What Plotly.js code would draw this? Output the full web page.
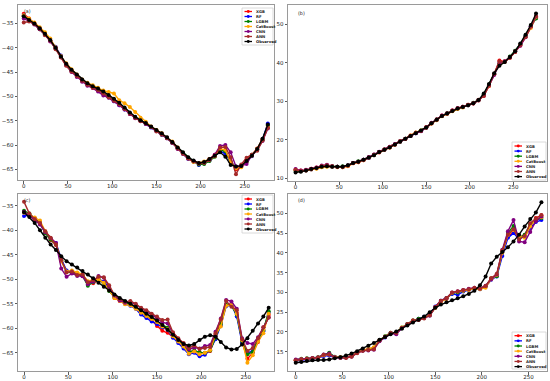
<!DOCTYPE html>
<html>
<head>
<meta charset="utf-8">
<script src="https://cdn.plot.ly/plotly-3.0.1.min.js"></script>
<style>html,body{margin:0;padding:0;background:#fff;}#chart{width:550px;height:381px;}</style>
</head>
<body>
<div id="chart"></div>
<script>
// ---------- data ----------
const seriesNames = ["XGB", "RF", "LGBM", "CatBoost", "CNN", "ANN", "Observed"];
const seriesColors = ["#ff0000", "#0000ff", "#008000", "#ffa500", "#800080", "#a52a2a", "#000000"];
const panelLabels = ["(a)", "(b)", "(c)", "(d)"];

const xA = [0,6,12,18,24,30,36,42,48,54,60,66,72,78,84,90,96,102,108,114,120,126,132,138,144,150,156,162,168,174,180,186,192,198,204,210,216,222,228,234,240,246,252,258,264,270,276];
const xB = xA;
const xC = xA;
const xD = [0,6,12,18,24,30,36,42,48,54,60,66,72,78,84,90,96,102,108,114,120,126,132,138,144,150,156,162,168,174,180,186,192,198,204,210,216,222,228,234,240,246,252,258,264];

// panel (a)
const aXGB = [-33.0,-34.0,-34.9,-36.0,-37.2,-38.6,-40.0,-41.9,-43.5,-44.8,-45.8,-46.8,-47.6,-48.1,-48.6,-49.3,-50.0,-50.8,-51.6,-52.6,-53.6,-54.4,-55.0,-55.6,-56.3,-57.0,-57.7,-58.5,-59.5,-60.6,-61.7,-62.7,-63.3,-63.8,-63.6,-62.9,-62.0,-60.8,-61.2,-63.4,-65.0,-64.4,-63.0,-62.0,-60.7,-58.9,-56.3];
const aRF = [-33.3,-34.2,-35.0,-36.1,-37.3,-38.5,-39.8,-41.6,-43.4,-44.6,-45.7,-46.6,-47.4,-48.0,-48.7,-49.4,-50.2,-51.0,-51.8,-52.7,-53.5,-54.3,-55.0,-55.7,-56.4,-57.1,-57.8,-58.6,-59.5,-60.7,-61.8,-62.9,-63.3,-64.1,-63.8,-63.2,-62.3,-61.3,-61.7,-63.6,-64.5,-64.3,-63.4,-62.3,-61.0,-58.8,-55.6];
const aLGBM = [-33.6,-34.4,-35.1,-36.2,-37.2,-38.5,-40.1,-41.9,-43.4,-44.7,-45.8,-46.7,-47.5,-48.0,-48.6,-49.3,-50.0,-50.7,-51.5,-52.5,-53.5,-54.3,-54.9,-55.6,-56.3,-57.0,-57.9,-58.5,-59.6,-60.6,-61.6,-62.6,-63.4,-64.0,-63.9,-63.3,-62.4,-61.0,-61.3,-63.5,-64.6,-64.3,-63.5,-62.0,-60.9,-59.0,-56.0];
const aCat = [-33.3,-34.0,-34.8,-35.8,-36.8,-38.1,-39.9,-41.7,-43.2,-44.4,-45.5,-46.5,-47.2,-47.7,-48.2,-48.8,-49.1,-49.4,-50.8,-51.4,-52.2,-53.2,-54.4,-55.2,-56.2,-56.9,-57.6,-58.5,-59.3,-60.5,-61.7,-62.8,-63.5,-63.7,-63.4,-62.9,-62.3,-60.8,-61.0,-63.6,-64.8,-64.6,-63.5,-62.2,-60.8,-58.8,-56.4];
const aCNN = [-34.0,-34.5,-35.2,-36.2,-37.3,-38.7,-40.1,-41.9,-43.6,-45.0,-46.0,-47.0,-47.8,-48.3,-49.0,-49.8,-50.3,-51.0,-51.8,-52.7,-53.6,-54.5,-55.0,-55.7,-56.3,-57.1,-57.9,-58.6,-59.6,-60.8,-61.8,-62.8,-63.3,-63.8,-63.6,-63.0,-62.0,-60.2,-60.0,-61.5,-64.4,-64.3,-63.9,-62.1,-61.0,-59.2,-56.6];
const aANN = [-34.8,-34.6,-35.1,-36.1,-37.4,-38.5,-40.3,-42.0,-43.7,-44.9,-45.8,-46.8,-47.6,-48.2,-48.7,-49.4,-50.2,-50.9,-51.6,-52.6,-53.5,-54.4,-55.1,-55.6,-56.3,-57.2,-57.8,-58.6,-59.5,-60.7,-61.8,-62.8,-63.4,-63.8,-63.7,-63.1,-62.2,-60.5,-60.4,-62.5,-66.0,-64.0,-62.6,-62.0,-61.2,-59.1,-56.5];
const aObs = [-33.5,-34.3,-35.0,-36.0,-37.1,-38.4,-40.0,-41.8,-43.3,-44.5,-45.5,-46.5,-47.3,-47.9,-48.4,-49.0,-49.7,-50.5,-51.3,-52.3,-53.3,-54.2,-54.9,-55.5,-56.2,-56.9,-57.6,-58.4,-59.4,-60.5,-61.5,-62.5,-63.2,-63.7,-63.5,-62.9,-62.2,-61.5,-62.4,-64.1,-64.4,-64.3,-63.3,-62.2,-60.8,-58.7,-55.8];

// panel (b)
const bXGB = [12.3,12.0,12.1,12.5,12.8,13.2,13.4,13.1,13.0,12.9,13.2,13.9,14.2,14.7,15.3,16.1,16.7,17.5,18.0,18.7,19.6,20.2,21.1,21.8,22.3,23.3,24.2,25.3,26.3,26.9,27.6,28.2,28.6,29.1,29.4,30.4,31.4,34.0,37.0,40.6,40.3,41.3,42.8,44.5,46.8,49.3,51.8];
const bRF = [12.0,11.9,12.0,12.3,12.6,13.0,13.2,13.0,13.0,13.0,13.3,14.0,14.3,14.8,15.3,16.0,16.8,17.4,18.1,18.8,19.5,20.3,21.0,21.7,22.3,23.1,24.3,25.2,26.2,26.8,27.5,28.1,28.5,29.0,29.5,30.3,31.7,34.2,37.0,39.6,40.3,41.5,43.0,44.8,47.0,49.5,51.6];
const bLGBM = [11.9,11.8,12.1,12.4,12.6,13.0,13.1,13.1,13.0,13.1,13.3,14.0,14.4,14.8,15.4,16.1,16.8,17.5,18.1,18.8,19.6,20.3,21.0,21.8,22.4,23.2,24.3,25.3,26.2,26.9,27.5,28.1,28.5,29.0,29.6,30.3,31.8,34.3,37.1,39.8,40.2,41.6,43.1,44.8,47.1,49.6,51.5];
const bCat = [12.1,11.9,12.0,12.3,12.5,12.9,13.0,13.0,12.9,12.9,13.1,13.9,14.2,14.7,15.4,16.0,16.8,17.4,18.0,18.8,19.5,20.3,21.1,21.9,22.4,23.1,24.2,25.1,26.1,26.7,27.4,28.0,28.4,29.0,29.5,30.2,31.6,34.0,37.0,39.5,40.4,41.4,42.9,44.6,46.7,49.0,51.9];
const bCNN = [12.4,12.0,12.2,12.5,12.8,13.3,13.5,13.1,13.0,13.0,13.3,14.0,14.3,14.8,15.5,16.2,16.9,17.5,18.2,18.9,19.6,20.3,21.0,21.7,22.2,23.2,24.4,25.3,26.3,26.8,27.6,28.2,28.6,29.0,29.5,30.2,31.5,34.1,36.8,40.0,40.4,41.4,42.9,44.4,46.6,49.4,52.0];
const bANN = [12.2,11.9,12.1,12.4,12.7,13.2,13.4,13.1,13.0,13.0,13.3,14.0,14.3,14.8,15.4,16.1,16.8,17.5,18.1,18.8,19.6,20.2,21.0,21.8,22.3,23.2,24.3,25.3,26.2,26.8,27.6,28.2,28.6,29.1,29.4,30.3,31.4,34.1,37.1,40.4,40.2,41.3,42.8,44.6,46.7,49.4,52.1];
const bObs = [11.5,11.7,12.0,12.4,12.7,13.0,13.1,13.0,13.0,13.0,13.4,14.0,14.3,14.8,15.4,16.0,16.8,17.4,18.0,18.8,19.5,20.3,21.0,21.7,22.4,23.2,24.3,25.2,26.2,26.8,27.5,28.1,28.5,29.0,29.5,30.3,32.0,34.5,37.3,39.2,40.2,41.5,43.0,45.0,47.3,49.8,52.8];

// panel (c)
const cXGB = [-36.2,-36.8,-37.5,-38.5,-40.5,-42.0,-43.0,-46.2,-48.3,-48.6,-49.0,-49.3,-50.5,-50.8,-50.2,-50.6,-52.0,-53.8,-54.4,-55.0,-55.1,-55.6,-56.6,-57.4,-58.4,-59.5,-60.5,-60.9,-61.8,-62.6,-63.6,-64.8,-64.6,-64.9,-65.2,-64.6,-61.6,-58.8,-55.3,-55.0,-56.8,-62.8,-66.2,-65.0,-62.8,-60.3,-57.3];
const cRF = [-37.1,-36.9,-37.7,-38.7,-40.4,-41.7,-42.6,-45.8,-48.2,-48.5,-48.9,-49.1,-50.6,-50.3,-49.9,-50.5,-51.7,-53.4,-54.3,-55.0,-55.4,-56.0,-57.2,-57.9,-58.6,-59.1,-59.8,-60.3,-61.9,-63.0,-64.1,-65.3,-65.0,-65.7,-65.4,-64.4,-62.2,-59.4,-55.5,-55.2,-57.6,-63.0,-65.0,-64.6,-62.4,-60.6,-56.8];
const cLGBM = [-36.0,-36.6,-37.6,-38.4,-40.6,-41.9,-42.9,-46.1,-48.5,-48.7,-48.9,-49.3,-51.3,-50.6,-50.0,-50.8,-52.4,-53.6,-54.2,-54.8,-55.0,-55.6,-56.4,-57.2,-57.9,-58.6,-59.3,-59.9,-61.3,-62.5,-63.6,-64.8,-64.5,-64.9,-65.0,-64.5,-61.9,-59.1,-55.2,-55.4,-57.2,-62.6,-65.3,-64.8,-62.3,-60.4,-56.5];
const cCat = [-36.4,-36.8,-37.4,-38.0,-40.2,-41.6,-42.8,-46.3,-48.4,-48.2,-48.6,-49.0,-50.4,-50.1,-50.0,-50.7,-52.2,-53.8,-54.4,-55.1,-55.3,-56.0,-56.8,-57.5,-58.1,-58.7,-59.6,-60.2,-61.6,-62.7,-63.7,-65.2,-64.7,-65.3,-65.0,-64.4,-61.3,-59.6,-55.4,-55.2,-57.0,-62.4,-67.0,-65.5,-62.7,-61.0,-57.0];
const cCNN = [-36.2,-37.1,-37.9,-38.8,-40.4,-41.6,-42.6,-47.8,-49.5,-48.8,-49.3,-49.4,-51.0,-50.5,-49.3,-49.7,-51.5,-53.3,-54.3,-54.8,-54.6,-55.1,-55.9,-56.6,-57.3,-57.9,-58.8,-59.0,-61.0,-62.2,-63.2,-64.3,-63.9,-64.1,-63.6,-63.4,-60.7,-58.0,-54.2,-54.5,-56.0,-62.0,-63.0,-63.2,-61.8,-59.8,-57.8];
const cANN = [-34.2,-36.6,-37.7,-38.5,-40.2,-41.5,-42.9,-46.0,-48.6,-48.4,-49.1,-49.0,-50.6,-50.2,-49.5,-49.6,-51.2,-53.2,-54.0,-54.6,-54.4,-55.0,-55.8,-56.3,-57.0,-57.6,-58.3,-58.2,-60.8,-62.0,-63.0,-64.0,-63.5,-64.2,-64.0,-63.8,-61.0,-58.2,-54.4,-55.6,-56.3,-62.2,-64.6,-64.0,-62.0,-59.8,-57.8];
const cObs = [-36.3,-37.3,-38.5,-40.0,-41.5,-42.9,-44.0,-45.3,-46.3,-47.0,-47.6,-48.3,-49.0,-49.8,-50.7,-51.5,-52.3,-53.1,-53.8,-54.4,-55.0,-55.6,-56.3,-57.0,-57.7,-58.4,-59.3,-60.3,-61.3,-62.4,-63.2,-63.5,-63.2,-62.4,-61.7,-61.4,-61.7,-62.8,-63.9,-64.3,-64.2,-63.3,-62.0,-60.5,-59.0,-57.6,-55.8];

// panel (d)
const dXGB = [12.8,13.0,13.2,13.3,13.5,14.0,14.2,13.6,13.5,13.5,13.8,14.7,15.3,15.4,15.8,17.9,18.8,19.8,19.8,21.0,21.9,22.9,23.2,23.6,24.3,26.2,27.7,28.4,29.8,30.1,30.5,30.8,31.0,31.0,31.5,33.6,34.2,40.3,44.0,45.5,44.0,44.5,47.0,48.8,49.5];
const dRF = [12.6,12.9,13.0,13.2,13.4,13.9,14.0,13.5,13.4,13.5,13.8,14.9,15.4,15.6,16.0,17.8,18.6,19.7,19.5,21.0,22.0,22.8,23.3,23.8,24.4,26.4,27.9,28.6,29.6,29.4,30.2,30.6,30.9,30.8,31.4,33.2,34.0,39.2,43.8,45.0,43.5,44.3,46.3,47.8,48.3];
const dLGBM = [12.9,13.2,13.3,13.4,13.6,14.2,14.7,13.7,13.6,13.5,13.9,14.8,15.3,15.5,15.9,17.9,18.9,19.8,19.8,21.1,22.0,22.9,23.3,23.7,24.2,26.2,27.8,28.5,29.8,30.0,30.4,30.7,31.0,30.9,31.6,33.5,34.1,40.2,45.0,46.8,43.8,44.6,47.2,48.2,48.8];
const dCat = [12.8,13.1,13.2,13.3,13.4,14.1,14.3,13.6,13.6,13.6,14.0,14.9,15.4,15.7,16.1,17.8,18.8,19.6,19.8,21.1,21.9,22.8,23.1,23.6,24.3,26.1,27.6,28.4,29.9,30.2,30.4,30.6,30.9,30.8,31.2,33.3,34.4,40.0,44.5,45.8,44.2,43.8,46.7,48.5,49.0];
const dCNN = [13.0,13.1,13.2,13.4,13.5,14.3,14.5,13.6,13.5,13.5,13.9,14.7,15.2,15.3,15.5,17.6,18.7,19.6,19.4,21.0,21.8,22.7,23.1,23.5,24.1,26.3,27.9,28.5,30.0,30.3,30.6,30.9,31.2,31.0,31.7,33.3,34.5,40.8,45.5,48.3,42.9,42.7,45.3,48.0,49.2];
const dANN = [12.8,13.0,13.2,13.3,13.5,14.2,14.3,13.5,13.4,13.4,13.7,14.6,15.2,15.4,15.6,17.8,18.8,19.7,19.7,21.0,22.0,22.9,23.0,23.4,24.2,26.3,27.9,28.6,30.0,30.2,30.6,30.8,31.2,31.0,31.6,33.6,34.7,40.6,44.6,46.0,43.4,44.3,47.5,48.7,49.6];
const dObs = [12.2,12.4,12.6,12.8,12.9,12.9,13.0,13.3,13.6,14.0,14.5,15.1,15.8,16.5,17.2,18.0,18.7,19.4,20.1,20.8,21.6,22.4,23.1,23.9,25.0,26.1,26.9,27.5,28.0,28.5,29.0,29.6,30.4,31.8,34.0,37.3,39.0,40.2,41.4,42.9,44.6,46.7,48.6,50.2,52.8];

// ---------- layout helpers ----------
const W = 550, H = 381;
const px = v => v / W;
const py = v => 1 - v / H;

const panels = [
  {x: xA, ys: [aXGB,aRF,aLGBM,aCat,aCNN,aANN,aObs], xr: [-6.5, 283], yr: [-67.2, -31.2], dy: 5,
   box: [18, 274, 5, 180], leg: {x0: 242, x1: 273, y0: 8, y1: 45, first: 11.5, step: 5}, lab: [22, 12]},
  {x: xB, ys: [bXGB,bRF,bLGBM,bCat,bCNN,bANN,bObs], xr: [-8.7, 288.6], yr: [9.3, 55], dy: 10,
   box: [288, 547, 5, 181], leg: {x0: 512, x1: 546, y0: 142, y1: 180, first: 146, step: 5.1}, lab: [296, 13]},
  {x: xC, ys: [cXGB,cRF,cLGBM,cCat,cCNN,cANN,cObs], xr: [-6.8, 282], yr: [-68.7, -32.6], dy: 5,
   box: [18, 274, 194, 371], leg: {x0: 242, x1: 273, y0: 195, y1: 233, first: 199, step: 5}, lab: [22, 201]},
  {x: xD, ys: [dXGB,dRF,dLGBM,dCat,dCNN,dANN,dObs], xr: [-8.3, 270], yr: [10.1, 54.9], dy: 5,
   box: [288, 547, 194, 371], leg: {x0: 512, x1: 546, y0: 332, y1: 369, first: 335.7, step: 5.15}, lab: [296, 201]}
];

const traces = [];
const shapes = [];
const annotations = [];
const layout = {
  width: W, height: H,
  margin: {l: 0, r: 0, t: 0, b: 0},
  paper_bgcolor: "#ffffff", plot_bgcolor: "#ffffff",
  showlegend: false,
  font: {family: "DejaVu Sans, sans-serif", size: 5.5, color: "#222"}
};

panels.forEach((p, i) => {
  const n = i + 1;
  const xa = n === 1 ? "x" : "x" + n;
  const ya = n === 1 ? "y" : "y" + n;
  const axCommon = {
    showgrid: false, zeroline: false, showline: true, mirror: true,
    linecolor: "#9a9a9a", linewidth: 1, ticks: "outside", ticklen: 2.5, tickwidth: 0.8,
    tickcolor: "#333", tickfont: {size: 5.5, color: "#222"}
  };
  layout["xaxis" + (n === 1 ? "" : n)] = Object.assign({}, axCommon, {
    domain: [px(p.box[0]), px(p.box[1])], range: p.xr, dtick: 50, tick0: 0,
    anchor: ya, ticklabelstandoff: -2
  });
  layout["yaxis" + (n === 1 ? "" : n)] = Object.assign({}, axCommon, {
    domain: [py(p.box[3]), py(p.box[2])], range: p.yr, dtick: p.dy, tick0: 0,
    anchor: xa
  });
  p.ys.forEach((y, k) => {
    traces.push({
      type: "scatter", mode: "lines+markers", x: p.x, y: y, xaxis: xa, yaxis: ya,
      name: seriesNames[k],
      line: {color: seriesColors[k], width: 1.4},
      marker: {color: seriesColors[k], size: 4}
    });
  });
  // manual legend
  const L = p.leg;
  shapes.push({type: "rect", xref: "paper", yref: "paper",
    x0: px(L.x0), x1: px(L.x1), y0: py(L.y1), y1: py(L.y0),
    line: {color: "#d0d0d0", width: 0.8}, fillcolor: "rgba(255,255,255,0.85)"});
  seriesNames.forEach((nm, k) => {
    const yy = L.first + k * L.step;
    shapes.push({type: "line", xref: "paper", yref: "paper",
      x0: px(L.x0 + 2.5), x1: px(L.x0 + 10), y0: py(yy), y1: py(yy),
      line: {color: seriesColors[k], width: 1.3}});
    shapes.push({type: "circle", xref: "paper", yref: "paper",
      x0: px(L.x0 + 4.8), x1: px(L.x0 + 7.7), y0: py(yy + 1.45), y1: py(yy - 1.45),
      line: {color: seriesColors[k], width: 0}, fillcolor: seriesColors[k]});
    annotations.push({xref: "paper", yref: "paper", x: px(L.x0 + 12), y: py(yy),
      xanchor: "left", yanchor: "middle", showarrow: false, text: "<b>" + nm + "</b>",
      font: {size: 3.8, color: "#222"}});
  });
  annotations.push({xref: "paper", yref: "paper", x: px(p.lab[0]), y: py(p.lab[1]),
    xanchor: "left", yanchor: "middle", showarrow: false, text: panelLabels[i],
    font: {size: 4.8, color: "#222"}});
});

layout.shapes = shapes;
layout.annotations = annotations;

Plotly.newPlot("chart", traces, layout, {displayModeBar: false, staticPlot: true});
</script>
</body>
</html>
